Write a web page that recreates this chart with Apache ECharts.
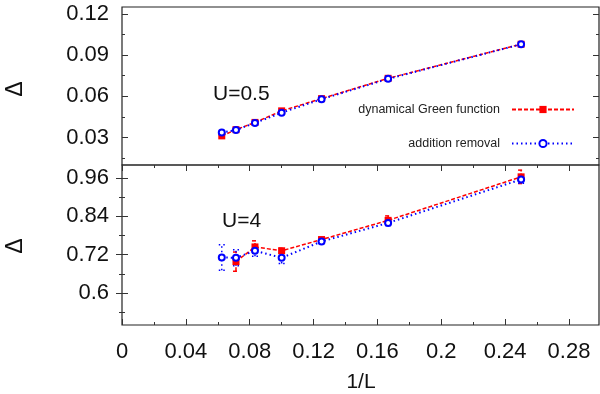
<!DOCTYPE html>
<html>
<head>
<meta charset="utf-8">
<script src="https://cdn.jsdelivr.net/npm/echarts@6/dist/echarts.min.js"></script>
<style>
  html, body { margin: 0; padding: 0; background: #fff; }
  #chart { width: 600px; height: 394px; }
</style>
</head>
<body>
<div id="chart"></div>
<script>
// 1/L for L = 16, 14, 12, 10, 8, 6, 4
const invL = [0.0625, 0.0714, 0.0833, 0.1, 0.125, 0.1667, 0.25]
const invLRed = [0.0714, 0.0833, 0.1, 0.125, 0.1667, 0.25]

// U=0.5 panel
const gapGreenU05 = [0.0312, 0.0357, 0.0410, 0.0494, 0.0583, 0.0731, 0.0979]
const gapAddRemU05 = [0.0336, 0.0355, 0.0406, 0.0481, 0.0579, 0.0727, 0.0979]

// U=4 panel (green function starts at L=14)
const gapGreenU4 = [0.698, 0.744, 0.732, 0.767, 0.827, 0.963]
const errGreenU4 = [0.030, 0.019, 0.008, 0.006, 0.014, 0.021]
const gapAddRemU4 = [0.711, 0.710, 0.732, 0.710, 0.761, 0.819, 0.955]
const errAddRemU4 = [0.040, 0.025, 0.017, 0.018, 0.006, 0.008, 0.012]

// tick labels
const xTicks = [0, 0.04, 0.08, 0.12, 0.16, 0.2, 0.24, 0.28]
const xMinor = [0.02, 0.06, 0.1, 0.14, 0.18, 0.22, 0.26]
const yTicksTop = [0.03, 0.06, 0.09, 0.12]
const yMinorTop = [0.015, 0.045, 0.075, 0.105]
const yTicksBot = [0.6, 0.72, 0.84, 0.96]
const yMinorBot = [0.54, 0.66, 0.78, 0.9]

const RED = '#ff0000'
const BLUE = '#0000ff'
const FONT = '"Liberation Sans", Arial, sans-serif'
const X_MAX = 0.2988

const pairs = (xs, ys) => xs.map((x, i) => [x, ys[i]])
const triples = (xs, ys, es) => xs.map((x, i) => [x, ys[i], es[i]])

function errorBar(color, dash) {
  return function (params, api) {
    const x = api.value(0), y = api.value(1), e = api.value(2)
    const lo = api.coord([x, y - e])
    const hi = api.coord([x, y + e])
    const w = 3
    const style = { stroke: color, lineWidth: 1.5, lineDash: dash, fill: null }
    return {
      type: 'group',
      children: [
        { type: 'line', shape: { x1: lo[0], y1: lo[1], x2: hi[0], y2: hi[1] }, style: style },
        { type: 'line', shape: { x1: lo[0] - w, y1: lo[1], x2: lo[0] + w, y2: lo[1] }, style: style },
        { type: 'line', shape: { x1: hi[0] - w, y1: hi[1], x2: hi[0] + w, y2: hi[1] }, style: style }
      ]
    }
  }
}

function xAx(grid, position, ticks, len, labels) {
  return {
    type: 'value', gridIndex: grid, position: position,
    min: 0, max: X_MAX,
    axisLine: { show: false },
    splitLine: { show: false },
    axisTick: { show: ticks.length > 0, inside: true, length: len, customValues: ticks,
      lineStyle: { color: '#333', width: 1 } },
    axisLabel: labels
      ? { show: true, customValues: ticks, margin: 16, color: '#111', fontSize: 22, fontFamily: FONT }
      : { show: false }
  }
}

function yAx(grid, position, min, max, ticks, len, labels, digits) {
  return {
    type: 'value', gridIndex: grid, position: position,
    min: min, max: max,
    axisLine: { show: false },
    splitLine: { show: false },
    axisTick: { show: true, inside: true, length: len, customValues: ticks,
      lineStyle: { color: '#333', width: 1 } },
    axisLabel: labels
      ? { show: true, customValues: ticks, margin: 13, color: '#111', fontSize: 22, fontFamily: FONT,
          formatter: v => String(+v.toFixed(digits)) }
      : { show: false }
  }
}

const chart = echarts.init(document.getElementById('chart'), null, { renderer: 'canvas' })

const option = {
  backgroundColor: '#fff',
  animation: false,
  grid: [
    { left: 122, top: 7, width: 477, height: 158, show: true, borderColor: '#222', borderWidth: 1.2 },
    { left: 122, top: 165, width: 477, height: 160, show: true, borderColor: '#222', borderWidth: 1.2 }
  ],
  xAxis: [
    xAx(0, 'bottom', [], 0, false),
    xAx(1, 'bottom', xTicks, 6, true),
    xAx(1, 'bottom', xMinor, 3, false),
    xAx(1, 'top', xTicks, 6, false),
    xAx(1, 'top', xMinor, 3, false)
  ],
  yAxis: [
    yAx(0, 'left', 0.01, 0.125, yTicksTop, 6, true, 2),
    yAx(0, 'left', 0.01, 0.125, yMinorTop, 3, false),
    yAx(0, 'right', 0.01, 0.125, yTicksTop, 6, false),
    yAx(0, 'right', 0.01, 0.125, yMinorTop, 3, false),
    yAx(1, 'left', 0.5, 1.0, yTicksBot, 6, true, 2),
    yAx(1, 'left', 0.5, 1.0, yMinorBot, 3, false),
    yAx(1, 'right', 0.5, 1.0, yTicksBot, 6, false),
    yAx(1, 'right', 0.5, 1.0, yMinorBot, 3, false)
  ],
  legend: {
    data: ['dynamical Green function', 'addition removal'],
    orient: 'vertical',
    align: 'right',
    right: 25,
    top: 103,
    padding: 0,
    itemWidth: 62,
    itemHeight: 9,
    itemGap: 21,
    textStyle: { fontSize: 12.5, color: '#222', fontFamily: FONT, padding: [0, 7, 0, 0] }
  },
  graphic: [
    { type: 'text', left: 213, top: 84, style: { text: 'U=0.5', font: '21px ' + FONT, fill: '#111' } },
    { type: 'text', left: 222, top: 211, style: { text: 'U=4', font: '21px ' + FONT, fill: '#111' } },
    { type: 'text', x: 16, y: 89, rotation: Math.PI / 2,
      style: { text: 'Δ', font: '23px ' + FONT, fill: '#111', align: 'center', verticalAlign: 'middle' } },
    { type: 'text', x: 16, y: 246, rotation: Math.PI / 2,
      style: { text: 'Δ', font: '23px ' + FONT, fill: '#111', align: 'center', verticalAlign: 'middle' } },
    { type: 'text', x: 361, y: 382,
      style: { text: '1/L', font: '21px ' + FONT, fill: '#111', align: 'center', verticalAlign: 'middle' } }
  ],
  series: [
    {
      name: 'dynamical Green function', type: 'line', xAxisIndex: 0, yAxisIndex: 0,
      data: pairs(invL, gapGreenU05),
      symbol: 'rect', symbolSize: 7,
      itemStyle: { color: RED },
      lineStyle: { color: RED, width: 1.5, type: [4, 2] }
    },
    {
      name: 'addition removal', type: 'line', xAxisIndex: 0, yAxisIndex: 0,
      data: pairs(invL, gapAddRemU05),
      symbol: 'emptyCircle', symbolSize: 6,
      itemStyle: { color: BLUE, borderWidth: 2 },
      lineStyle: { color: BLUE, width: 2, type: [1.5, 3] }
    },
    {
      name: 'errGreen', type: 'custom', xAxisIndex: 1, yAxisIndex: 4,
      data: triples(invLRed, gapGreenU4, errGreenU4),
      renderItem: errorBar(RED, [4, 2])
    },
    {
      name: 'errAddRem', type: 'custom', xAxisIndex: 1, yAxisIndex: 4,
      data: triples(invL, gapAddRemU4, errAddRemU4),
      renderItem: errorBar(BLUE, [1.5, 3])
    },
    {
      name: 'dynamical Green function', type: 'line', xAxisIndex: 1, yAxisIndex: 4,
      data: pairs(invLRed, gapGreenU4),
      symbol: 'rect', symbolSize: 7,
      itemStyle: { color: RED },
      lineStyle: { color: RED, width: 1.5, type: [4, 2] }
    },
    {
      name: 'addition removal', type: 'line', xAxisIndex: 1, yAxisIndex: 4,
      data: pairs(invL, gapAddRemU4),
      symbol: 'emptyCircle', symbolSize: 6,
      itemStyle: { color: BLUE, borderWidth: 2 },
      lineStyle: { color: BLUE, width: 2, type: [1.5, 3] }
    }
  ]
}

chart.setOption(option)
</script>
</body>
</html>
